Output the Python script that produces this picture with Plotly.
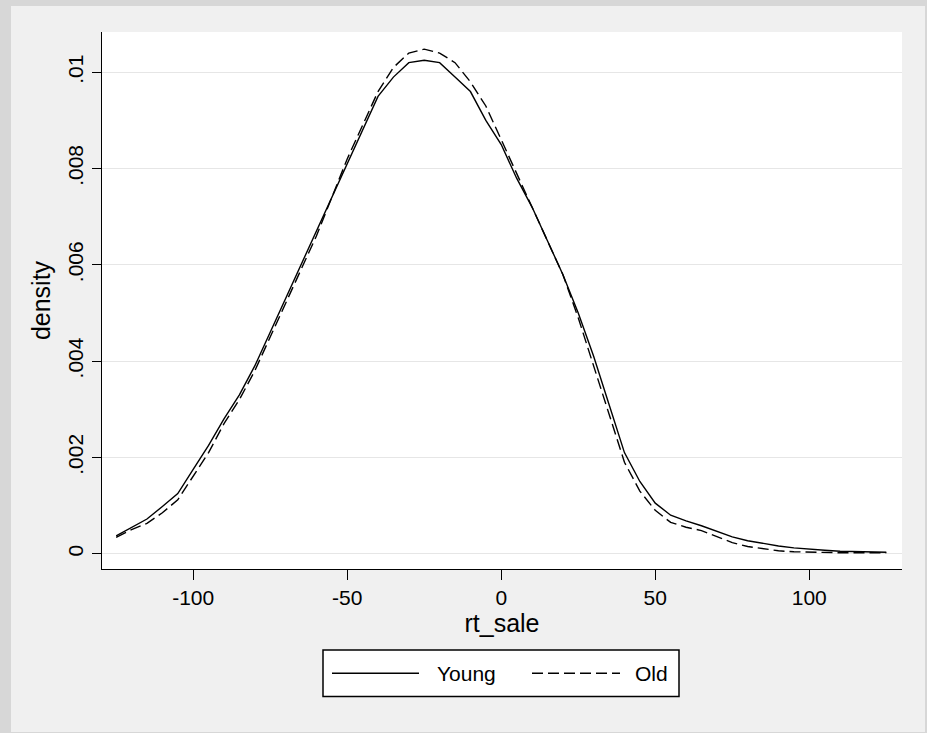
import plotly.graph_objects as go

# ---- data ----
rt_sale = [-125, -120, -115, -110, -105, -100, -95, -90, -85, -80, -75, -70, -65,
           -60, -55, -50, -45, -40, -35, -30, -25, -20, -15, -10, -5, 0,
           5, 10, 15, 20, 25, 30, 35, 40, 45, 50, 55, 60, 65, 70, 75,
           80, 85, 90, 95, 100, 105, 110, 115, 120, 125]

young = [0.00037, 0.00055, 0.00072, 0.00098, 0.00125, 0.00175, 0.00225, 0.0028, 0.0033,
         0.0039, 0.0046, 0.0053, 0.0060, 0.0067, 0.0074, 0.0081, 0.0088, 0.0095,
         0.0099, 0.0102, 0.01025, 0.0102, 0.0099, 0.0096, 0.0090, 0.0085,
         0.0078, 0.0072, 0.0065, 0.0058, 0.0050, 0.0041, 0.0031, 0.0021, 0.0015,
         0.00105, 0.0008, 0.00068, 0.00058, 0.00046, 0.00035, 0.00027, 0.00021,
         0.00016, 0.00012, 0.00009, 0.00007, 0.00005, 0.00004, 0.00003, 0.00003]

old = [0.00034, 0.0005, 0.00063, 0.00085, 0.00112, 0.0016, 0.0021, 0.0027, 0.0032,
       0.0038, 0.0045, 0.0052, 0.0059, 0.0066, 0.0074, 0.0082, 0.0089, 0.0096,
       0.0101, 0.0104, 0.01048, 0.0104, 0.0102, 0.0098, 0.0093, 0.0086,
       0.0079, 0.0072, 0.0065, 0.0058, 0.0049, 0.0039, 0.0029, 0.0019, 0.0013,
       0.0009, 0.00065, 0.00055, 0.00048, 0.00036, 0.00023, 0.00015, 0.0001,
       0.00006, 0.00004, 0.00003, 0.00003, 0.00002, 0.00002, 0.00002, 0.00002]

series_names = ["Young", "Old"]
x_ticks = [-100, -50, 0, 50, 100]
x_tick_labels = ["-100", "-50", "0", "50", "100"]
y_ticks = [0, 0.002, 0.004, 0.006, 0.008, 0.01]
y_tick_labels = ["0", ".002", ".004", ".006", ".008", ".01"]
x_title = "rt_sale"
y_title = "density"

FONT = "Liberation Sans, Arial, sans-serif"
FS = 21
W, H = 927, 733
L, R, T, B = 102, 25, 32, 164
PW, PH = W - L - R, H - T - B


def px(xp):
    return (xp - L) / PW


def py(yp):
    return (H - B - yp) / PH


fig = go.Figure()
fig.add_trace(go.Scatter(x=rt_sale, y=young, mode="lines", name=series_names[0],
                         line=dict(color="black", width=1.4), showlegend=False))
fig.add_trace(go.Scatter(x=rt_sale, y=old, mode="lines", name=series_names[1],
                         line=dict(color="black", width=1.4, dash="11px,5px"),
                         showlegend=False))

shapes = []
border = "#D7D7D7"
# outer darker frame strips
for (x0, x1, y0, y1) in [(0, 11, 0, H), (0, W, 0, 6), (925, W, 0, H), (0, W, 732, H)]:
    shapes.append(dict(type="rect", xref="paper", yref="paper",
                       x0=px(x0), x1=px(x1), y0=py(y1), y1=py(y0),
                       fillcolor=border, line=dict(width=0), layer="below"))
# legend box
shapes.append(dict(type="rect", xref="paper", yref="paper",
                   x0=px(323), x1=px(679), y0=py(696.5), y1=py(650),
                   fillcolor="white", line=dict(color="black", width=1.5)))
ly = py(673.3)
shapes.append(dict(type="line", xref="paper", yref="paper",
                   x0=px(332), x1=px(419), y0=ly, y1=ly,
                   line=dict(color="black", width=1.4)))
shapes.append(dict(type="line", xref="paper", yref="paper",
                   x0=px(532), x1=px(620), y0=ly, y1=ly,
                   line=dict(color="black", width=1.4, dash="11px,5px")))

annotations = [
    dict(xref="paper", yref="paper", x=px(435), y=ly, xanchor="left", yanchor="middle",
         text=series_names[0], showarrow=False, font=dict(family=FONT, size=FS, color="black")),
    dict(xref="paper", yref="paper", x=px(633), y=ly, xanchor="left", yanchor="middle",
         text=series_names[1], showarrow=False, font=dict(family=FONT, size=FS, color="black")),
]

fig.update_layout(
    width=W, height=H,
    margin=dict(l=L, r=R, t=T, b=B, pad=0),
    paper_bgcolor="#F0F0F0",
    plot_bgcolor="white",
    font=dict(family=FONT, size=FS, color="black"),
    shapes=shapes,
    annotations=annotations,
    showlegend=False,
)
fig.update_xaxes(
    range=[-129.6, 130.1], tickvals=x_ticks, ticktext=x_tick_labels, ticks="outside",
    ticklen=10, tickwidth=1.2, tickcolor="black", showline=True, linecolor="black",
    linewidth=1.3, showgrid=False, zeroline=False, title=dict(text=x_title, standoff=2),
    tickfont=dict(family=FONT, size=FS, color="black"),
)
fig.update_yaxes(
    range=[-0.000318, 0.010837], tickvals=y_ticks, ticktext=y_tick_labels,
    tickangle=-90, ticks="outside", ticklen=9, tickwidth=1.2, tickcolor="black",
    showline=True, linecolor="black", linewidth=1.3,
    showgrid=True, gridcolor="#E6E6E6", gridwidth=1.2, zeroline=False,
    title=dict(text=y_title, standoff=6),
    tickfont=dict(family=FONT, size=FS, color="black"),
)

fig.write_html("out.html",
               config={"displayModeBar": False},
               post_script="document.body.style.margin='0';document.body.style.padding='0';")
